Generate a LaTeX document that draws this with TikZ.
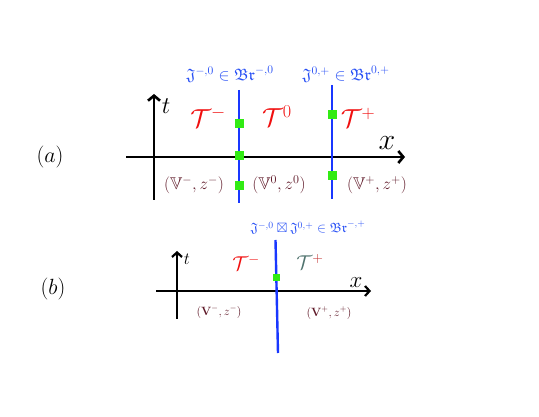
\RequirePackage{fix-cm}
\documentclass[tikz,border=0pt]{standalone}
\usepackage{amssymb}
\usetikzlibrary{arrows.meta}
\definecolor{lineblue}{RGB}{25,55,255}
\definecolor{txtblue}{RGB}{40,80,245}
\definecolor{tred}{RGB}{240,15,15}
\definecolor{maroon}{RGB}{95,25,40}
\definecolor{sqgreen}{RGB}{50,235,20}
\definecolor{teal2}{RGB}{80,115,110}
\tikzset{
  axis/.style={line width=2.6pt,black,-{Straight Barb[length=5pt,width=12pt,line width=2.6pt]}},
  axisb/.style={line width=2.2pt,black,-{Straight Barb[length=4.5pt,width=10pt,line width=2.2pt]}},
  wall/.style={line width=2.6pt,lineblue},
  sq/.style={fill=sqgreen,draw=none,minimum size=9pt,inner sep=0pt},
  sqb/.style={fill=sqgreen,draw=none,minimum size=7pt,inner sep=0pt},
  lbl/.style={inner sep=0pt},
}
\newcommand{\fs}[1]{\fontsize{#1}{#1}\selectfont}
\begin{document}
\begin{tikzpicture}[x=1pt,y=-1pt]
\useasboundingbox (0,0) rectangle (539,417);
% ---------- (a)
\node[lbl] (la) at (50,157) {\fs{22}$(a)$};
\coordinate (ax0) at (126,157);
\coordinate (ax1) at (405,157);
\coordinate (at0) at (154,200);
\coordinate (at1) at (154,94);
\draw[axis] (ax0) -- (ax1);
\draw[axis] (at0) -- (at1);
\node[lbl] (ta) at (166,106) {\fs{24}$t$};
\node[lbl] (xa) at (387,143) {\fs{30}$x$};
\coordinate (w1t) at (239,90);
\coordinate (w1b) at (239,203);
\coordinate (w2t) at (332,85);
\coordinate (w2b) at (332,199);
\draw[wall] (w1t) -- (w1b);
\draw[wall] (w2t) -- (w2b);
\node[sq] (s1) at (239,124) {};
\node[sq] (s2) at (239,156) {};
\node[sq] (s3) at (239,186) {};
\node[sq] (s4) at (332,115) {};
\node[sq] (s5) at (332,176) {};
\node[lbl,text=tred] (Tm) at (208,117) {\fs{26}$\mathcal{T}^{-}$};
\node[lbl,text=tred] (T0) at (277,116) {\fs{26}$\mathcal{T}^{0}$};
\node[lbl,text=tred] (Tp) at (358,118) {\fs{26}$\mathcal{T}^{+}$};
\node[lbl,text=maroon] (Vm) at (194,185) {\fs{17}$(\mathbb{V}^{-},z^{-})$};
\node[lbl,text=maroon] (V0) at (279,185) {\fs{17}$(\mathbb{V}^{0},z^{0})$};
\node[lbl,text=maroon] (Vp) at (377,185) {\fs{17}$(\mathbb{V}^{+},z^{+})$};
\node[lbl,text=txtblue] (J1) at (230,74) {\fs{16.5}$\mathfrak{J}^{-,0}\in\mathfrak{Br}^{-,0}$};
\node[lbl,text=txtblue] (J2) at (346,74) {\fs{16.5}$\mathfrak{J}^{0,+}\in\mathfrak{Br}^{0,+}$};
% ---------- (b)
\node[lbl] (lb) at (53,289) {\fs{22}$(b)$};
\coordinate (bx0) at (156,291);
\coordinate (bx1) at (371,291);
\coordinate (bt0) at (177,319);
\coordinate (bt1) at (177,251);
\draw[axisb] (bx0) -- (bx1);
\draw[axisb] (bt0) -- (bt1);
\node[lbl] (tb) at (187,259) {\fs{17}$t$};
\node[lbl] (xb) at (356,283) {\fs{23}$x$};
\coordinate (wbt) at (275.5,240);
\coordinate (wbb) at (278,353);
\draw[wall,line width=2.4pt] (wbt) -- (wbb);
\node[sqb] (sb) at (276.5,278) {};
\node[lbl,text=tred] (Tbm) at (246,263) {\fs{20}$\mathcal{T}^{-}$};
\node[lbl,text=teal2] (Tbp) at (310,262) {\fs{20}$\mathcal{T}^{\textcolor{tred!70!teal2}{+}}$};
\node[lbl,text=txtblue] (Jb) at (308,228) {\fs{13.5}$\mathfrak{J}^{-,0}\boxtimes\mathfrak{J}^{0,+}\in\mathfrak{Br}^{-,+}$};
\node[lbl,text=maroon] (Vbm) at (219,312) {\fs{12}$(\mathbf{V}^{-},z^{-})$};
\node[lbl,text=maroon] (Vbp) at (329,313) {\fs{12}$(\mathbf{V}^{+},z^{+})$};
\end{tikzpicture}
\end{document}
